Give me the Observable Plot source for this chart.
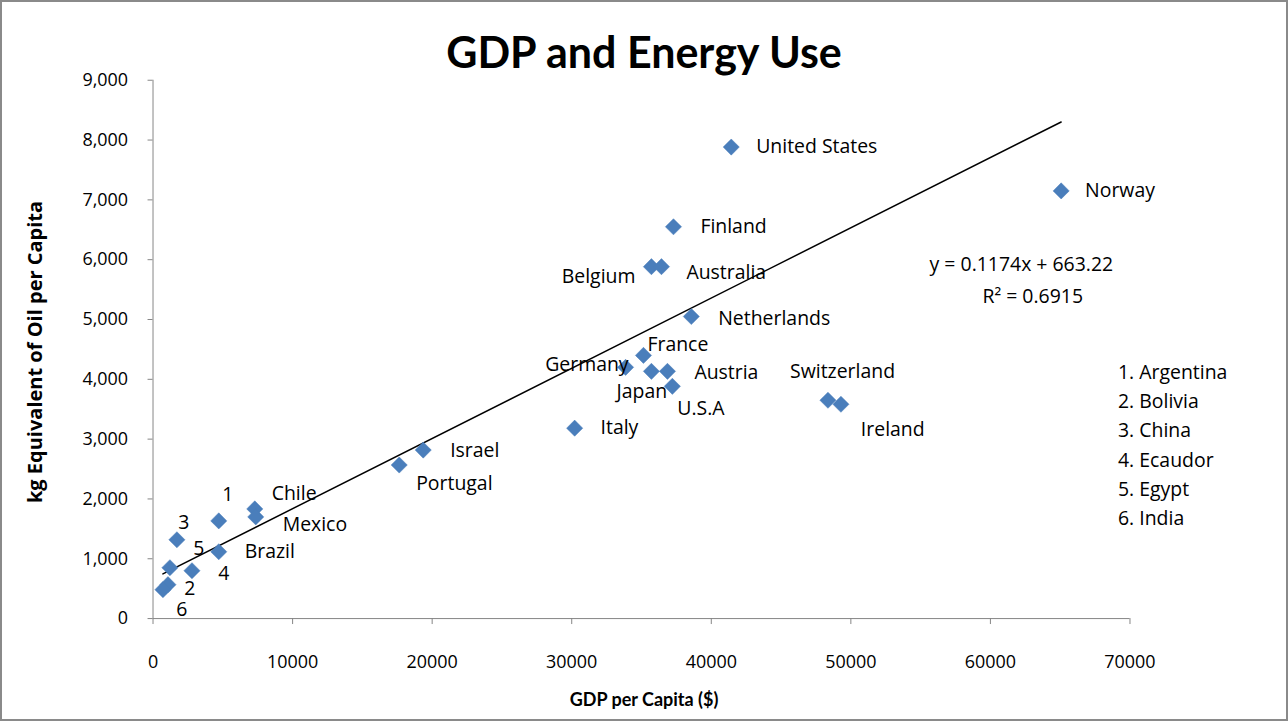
<!DOCTYPE html>
<html>
<head>
<meta charset="utf-8">
<script src="https://cdn.jsdelivr.net/npm/d3@7"></script>
<script src="https://cdn.jsdelivr.net/npm/@observablehq/plot@0.6"></script>
<style>
  html, body { margin: 0; padding: 0; background: #fff; }
  #chart {
    position: relative; width: 1288px; height: 721px; box-sizing: border-box;
    border: 2px solid #8a8a8a; overflow: hidden; font-family: "Open Sans", Lato, sans-serif;
  }
  #chart svg { position: absolute; left: -2px; top: -2px; }
  .title {
    position: absolute; left: 0; width: 1284px; top: 25px; text-align: center;
    font-family: Lato, sans-serif; font-size: 43px; font-weight: bold; color: #000; line-height: 50px;
  }
  .xlabel {
    position: absolute; left: 0; width: 1284px; top: 686px; text-align: center;
    font-family: Lato, sans-serif; font-size: 18px; font-weight: bold; color: #000; line-height: 22px;
  }
  .ylabel {
    position: absolute; left: 33px; top: 350px; white-space: nowrap;
    font-size: 20px; font-weight: bold; color: #000; line-height: 24px;
    transform: translate(-50%, -50%) rotate(-90deg);
  }
</style>
</head>
<body>
<div id="chart">
  <div class="title">GDP and Energy Use</div>
  <div class="ylabel">kg Equivalent of Oil per Capita</div>
  <div class="xlabel">GDP per Capita ($)</div>
</div>
<script>
// Countries, GDP per capita ($) and energy use (kg oil equivalent per capita)
const countries = ["United States", "Norway", "Finland", "Belgium", "Australia", "Netherlands",
  "France", "Germany", "Japan", "Austria", "U.S.A", "Switzerland", "Ireland", "Italy",
  "Israel", "Portugal", "Chile", "Mexico", "Argentina", "Brazil", "China", "Egypt",
  "Ecaudor", "Bolivia", "India"];
const gdp = [41430, 65070, 37290, 35710, 36430, 38570,
  35140, 33860, 35710, 36860, 37210, 48360, 49290, 30210,
  19360, 17640, 7290, 7360, 4710, 4710, 1710, 1210,
  2790, 1070, 710];
const energy = [7883, 7150, 6550, 5883, 5883, 5050,
  4400, 4200, 4133, 4133, 3883, 3650, 3583, 3183,
  2817, 2567, 1833, 1700, 1633, 1117, 1317, 850,
  800, 567, 483];
// Short labels drawn beside the markers (numbered ones are listed in the key)
const pointLabels = ["United States", "Norway", "Finland", "Belgium", "Australia", "Netherlands",
  "France", "Germany", "Japan", "Austria", "U.S.A", "Switzerland", "Ireland", "Italy",
  "Israel", "Portugal", "Chile", "Mexico", "1", "Brazil", "3", "5",
  "4", "2", "6"];
const keyLabels = ["1. Argentina", "2. Bolivia", "3. China", "4. Ecaudor", "5. Egypt", "6. India"];

// Axis ticks
const xTicks = [0, 10000, 20000, 30000, 40000, 50000, 60000, 70000];
const yTicks = [0, 1000, 2000, 3000, 4000, 5000, 6000, 7000, 8000, 9000];

// Linear trend line fitted to the points
const slope = 0.1174;
const intercept = 663.22;
const rSquared = 0.6915;

const rows = countries.map((c, i) => ({country: c, gdp: gdp[i], energy: energy[i], label: pointLabels[i]}));
const xMin = d3.min(gdp), xMax = d3.max(gdp);
const trend = [xMin, xMax].map(x => ({gdp: x, energy: slope * x + intercept}));

// Where each label sits relative to its marker: [dx, dy, anchor]
const placement = {
  "United States": [25, 0, "start"], "Norway": [24, 0, "start"], "Finland": [27, 0, "start"],
  "Belgium": [-16, 10, "end"], "Australia": [25, 6, "start"], "Netherlands": [27, 2, "start"],
  "France": [4, -11, "start"], "Germany": [3, -3, "end"], "Japan": [-35, 20, "start"],
  "Austria": [27, 1, "start"], "U.S.A": [5, 23, "start"], "Switzerland": [-38, -29, "start"],
  "Ireland": [20, 26, "start"], "Italy": [26, 0, "start"], "Israel": [27, 1, "start"],
  "Portugal": [17, 19, "start"], "Chile": [17, -15, "start"], "Mexico": [27, 8, "start"],
  "1": [9, -26, "middle"], "Brazil": [26, 0, "start"], "3": [7, -17, "middle"],
  "5": [29, -19, "middle"], "4": [32, 3, "middle"], "2": [22, 4, "middle"], "6": [19, 20, "middle"]
};

const axisColor = "#868686";
const markerColor = "#4a7ebb";
const labelFont = 19.5;

const labelMarks = rows.map(r => {
  const [dx, dy, anchor] = placement[r.label];
  return Plot.text([r], {x: "gdp", y: "energy", text: "label", dx, dy, textAnchor: anchor, fill: "#000", fontSize: labelFont});
});

const plot = Plot.plot({
  width: 1288,
  height: 721,
  marginLeft: 153,
  marginRight: 155,
  marginTop: 80,
  marginBottom: 101,
  style: {fontFamily: "'Open Sans', Lato, sans-serif", fontSize: "18px", color: "#000", background: "transparent", overflow: "visible"},
  x: {domain: [0, 70000], label: null},
  y: {domain: [0, 9000], label: null},
  marks: [
    Plot.axisX({ticks: xTicks, tickSize: 6, tickPadding: 31, stroke: axisColor, fill: "#000", tickFormat: d => String(d), label: null}),
    Plot.axisY({ticks: yTicks, tickSize: 5, tickPadding: 20, stroke: axisColor, fill: "#000", tickFormat: d3.format(","), label: null}),
    Plot.ruleX([0], {stroke: axisColor}),
    Plot.ruleY([0], {stroke: axisColor}),
    Plot.line(trend, {x: "gdp", y: "energy", stroke: "#000", strokeWidth: 1.5}),
    Plot.dot(rows, {x: "gdp", y: "energy", symbol: "diamond2", r: 7.3, fill: markerColor, stroke: markerColor, strokeWidth: 0.5}),
    ...labelMarks,
    Plot.text([`y = ${slope}x + ${intercept}`], {frameAnchor: "top-left", dx: 779, dy: 185, textAnchor: "start", lineAnchor: "middle", fill: "#000", fontSize: labelFont}),
    Plot.text([`R² = ${rSquared}`], {frameAnchor: "top-left", dx: 832, dy: 217, textAnchor: "start", lineAnchor: "middle", fill: "#000", fontSize: labelFont}),
    Plot.text([keyLabels.join("\n")], {frameAnchor: "top-left", dx: 968, dy: 363.5, textAnchor: "start", lineAnchor: "middle", lineHeight: 1.5, fill: "#000", fontSize: labelFont})
  ]
});

document.getElementById("chart").appendChild(plot);
</script>
</body>
</html>
